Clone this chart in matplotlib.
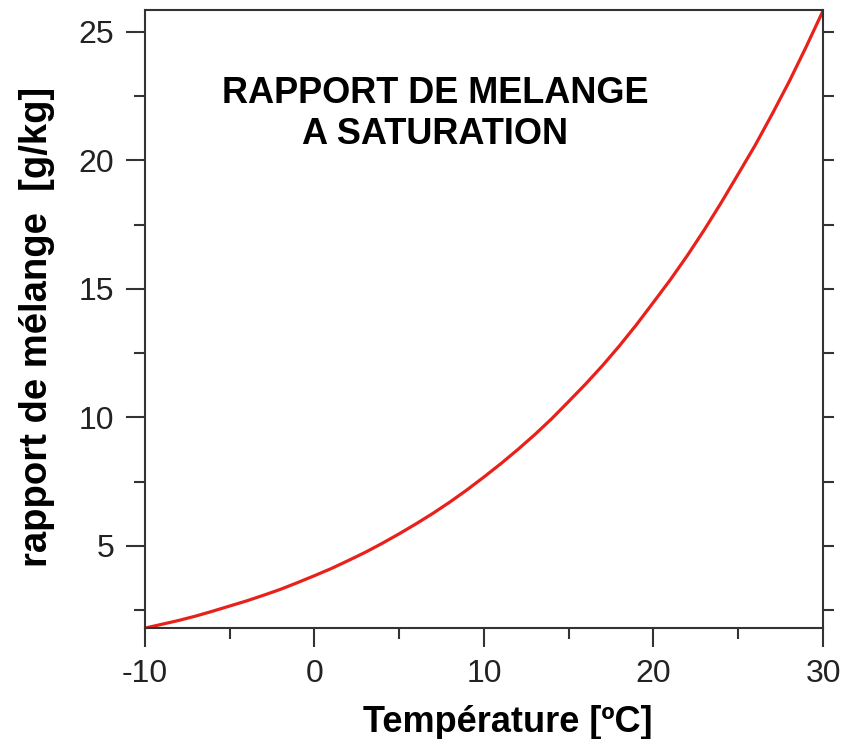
import matplotlib
matplotlib.use("Agg")
import matplotlib.pyplot as plt
from matplotlib.ticker import MultipleLocator

# saturation mixing ratio [g/kg], 1 degC steps
temperature = list(range(-10, 31))
mixing_ratio = [
    1.80, 1.95, 2.10, 2.27, 2.46, 2.66, 2.86, 3.08, 3.31, 3.57,
    3.84, 4.12, 4.43, 4.75, 5.10, 5.47, 5.86, 6.27, 6.71, 7.18,
    7.68, 8.20, 8.75, 9.33, 9.95, 10.62, 11.30, 12.02, 12.79, 13.61,
    14.48, 15.36, 16.30, 17.30, 18.36, 19.47, 20.59, 21.80, 23.06, 24.41,
    25.82,
]

x_ticks = [-10, 0, 10, 20, 30]
y_ticks = [5, 10, 15, 20, 25]
right_ticks = [2.5, 5, 7.5, 10, 12.5, 15, 17.5, 20, 22.5, 25]

plt.rcParams["font.family"] = ["Liberation Sans", "DejaVu Sans"]
plt.rcParams["axes.unicode_minus"] = False

fig = plt.figure(figsize=(8.52, 7.39), dpi=100)
ax = fig.add_axes([0.170, 0.150, 0.796, 0.8365])

ax.plot(temperature, mixing_ratio, color="#e8221b", lw=2.3, solid_capstyle="round")

ax.set_xlim(-10, 30)
ax.set_ylim(1.8, 25.85)
ax.set_xticks(x_ticks)
ax.set_yticks(y_ticks)
ax.xaxis.set_minor_locator(MultipleLocator(5))
ax.yaxis.set_minor_locator(MultipleLocator(2.5))

for s in ax.spines.values():
    s.set_linewidth(1.5)
    s.set_color("#333333")

ax.tick_params(which="both", direction="out", color="#333333", width=1.5,
               labelsize=23, pad=8, labelcolor="#222222")
ax.tick_params(which="major", length=14)
ax.tick_params(which="minor", length=8)

# right side: short ticks every 2.5 without labels
ax_r = ax.secondary_yaxis("right")
ax_r.set_yticks(right_ticks)
ax_r.tick_params(direction="out", length=8, width=1.5, color="#333333", labelright=False)
ax_r.spines["right"].set_visible(False)

ax.set_xlabel("Température [ºC]", fontsize=26, fontweight="bold", labelpad=12)
ax.xaxis.label.set_x(0.535)
ax.set_ylabel("rapport de mélange  [g/kg]", fontsize=27.5, fontweight="bold", labelpad=17)
ax.yaxis.label.set_y(0.487)

ax.text(0.428, 0.832, "RAPPORT DE MELANGE\nA SATURATION", transform=ax.transAxes,
        ha="center", va="center", fontsize=26, fontweight="bold", linespacing=1.2)

fig.savefig("out.png", dpi=100)
